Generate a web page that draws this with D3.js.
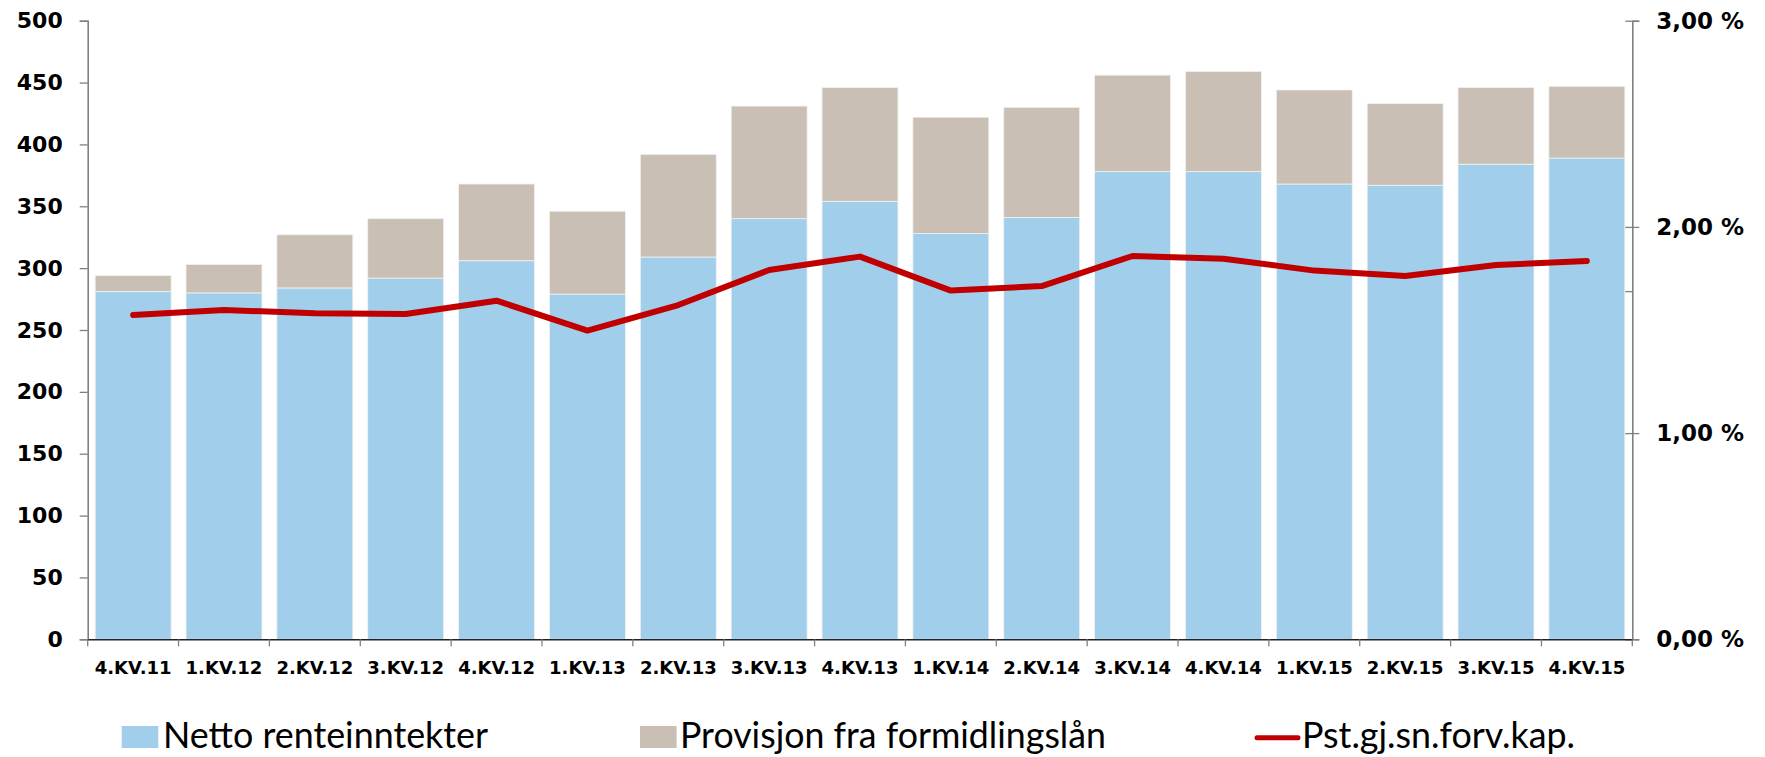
<!DOCTYPE html>
<html>
<head>
<meta charset="utf-8">
<script src="https://cdn.jsdelivr.net/npm/d3@7"></script>
<style>
  html, body { margin: 0; padding: 0; background: #ffffff; }
  svg { display: block; }
</style>
</head>
<body>
<svg id="chart" width="1765" height="757"></svg>
<script>
// ---- data ----
const categories = ["4.KV.11","1.KV.12","2.KV.12","3.KV.12","4.KV.12","1.KV.13","2.KV.13","3.KV.13","4.KV.13","1.KV.14","2.KV.14","3.KV.14","4.KV.14","1.KV.15","2.KV.15","3.KV.15","4.KV.15"];
const nettoRenteinntekter = [281, 280, 284, 292, 306, 279, 309, 340, 354, 328, 341, 378, 378, 368, 367, 384, 389];
const provisjonFormidlingslaan = [13, 23, 43, 48, 62, 67, 83, 91, 92, 94, 89, 78, 81, 76, 66, 62, 58];
const pstForvKap = [1.573, 1.597, 1.581, 1.578, 1.642, 1.497, 1.621, 1.791, 1.856, 1.691, 1.713, 1.859, 1.846, 1.788, 1.762, 1.815, 1.835];
const leftTicks = [0, 50, 100, 150, 200, 250, 300, 350, 400, 450, 500];
const rightTicks = [0, 1, 2, 3];
const rightMinorTicks = [1.686];
const legendLabels = ["Netto renteinntekter", "Provisjon fra formidlingslån", "Pst.gj.sn.forv.kap."];

// ---- layout ----
const plotLeft = 87.7, plotRight = 1632.3, plotTop = 20.7, plotBottom = 639.3;
const colBlue = "#A1CFEB", colTan = "#C9BFB5", colRed = "#C00000";

const svg = d3.select("#chart");

const x = d3.scaleBand().domain(categories).range([plotLeft, plotRight]).paddingInner(0.164).paddingOuter(0.082);
const y = d3.scaleLinear().domain([0, 500]).range([plotBottom, plotTop]);
const y2 = d3.scaleLinear().domain([0, 3]).range([plotBottom, plotTop]);

// bars
const rows = categories.map((c, i) => ({ cat: c, netto: nettoRenteinntekter[i], prov: provisjonFormidlingslaan[i] }));
const stack = d3.stack().keys(["netto", "prov"])(rows);
const colors = { netto: colBlue, prov: colTan };

svg.append("g").selectAll("g").data(stack).join("g")
  .attr("fill", d => colors[d.key])
  .selectAll("rect").data(d => d).join("rect")
  .attr("x", d => x(d.data.cat))
  .attr("width", x.bandwidth())
  .attr("y", d => y(d[1]))
  .attr("height", d => y(d[0]) - y(d[1]))
  .attr("stroke", "#f2f2f2")
  .attr("stroke-width", 0.8);

// left axis
const leftAxis = d3.axisLeft(y).tickValues(leftTicks).tickSize(8).tickPadding(17).tickFormat(d3.format("d"));
const gl = svg.append("g").attr("transform", `translate(${plotLeft},0)`).call(leftAxis);
gl.select(".domain").attr("stroke", "#808080").attr("stroke-width", 1.6);
gl.selectAll(".tick line").attr("stroke", "#808080").attr("stroke-width", 1.3);
gl.selectAll(".tick text").attr("font-family", "'DejaVu Sans', Verdana, sans-serif")
  .attr("font-weight", "bold").attr("font-size", 22).attr("fill", "#000");

// right axis
const rightAxis = d3.axisRight(y2).tickValues(rightTicks).tickSize(7).tickPadding(17)
  .tickFormat(d => d3.format(".2f")(d).replace(".", ",") + " %");
const gr = svg.append("g").attr("transform", `translate(${plotRight},0)`).call(rightAxis);
gr.select(".domain").attr("stroke", "#808080").attr("stroke-width", 1.6);
gr.selectAll(".tick line").attr("stroke", "#808080").attr("stroke-width", 1.3).attr("x1", -7);
gr.selectAll(".tick text").attr("font-family", "'DejaVu Sans', Verdana, sans-serif")
  .attr("font-weight", "bold").attr("font-size", 23).attr("fill", "#000");
gr.selectAll(".minor").data(rightMinorTicks).join("line").attr("class", "minor")
  .attr("x1", -7).attr("x2", 0).attr("y1", d => y2(d)).attr("y2", d => y2(d))
  .attr("stroke", "#808080").attr("stroke-width", 1.3);

// bottom axis
const bottomAxis = d3.axisBottom(x).tickSize(0).tickPadding(22);
const gb = svg.append("g").attr("transform", `translate(0,${plotBottom})`).call(bottomAxis);
gb.select(".domain").attr("stroke", "#222").attr("stroke-width", 1.6);
gb.selectAll(".tick text").attr("font-family", "'DejaVu Sans', Verdana, sans-serif")
  .attr("font-weight", "bold").attr("font-size", 18).attr("fill", "#000");
// category boundary ticks
const bounds = categories.map(c => x(c) - x.step() * x.paddingInner() / 2).concat([plotRight]);
gb.selectAll(".btick").data(bounds).join("line").attr("class", "btick")
  .attr("x1", d => d).attr("x2", d => d).attr("y1", 0).attr("y2", 7)
  .attr("stroke", "#808080").attr("stroke-width", 1.3);

// line
const line = d3.line()
  .x((d, i) => x(categories[i]) + x.bandwidth() / 2)
  .y(d => y2(d));
svg.append("path").datum(pstForvKap)
  .attr("d", line).attr("fill", "none").attr("stroke", colRed)
  .attr("stroke-width", 6).attr("stroke-linejoin", "round").attr("stroke-linecap", "round");

// legend
const legendFont = "Lato, 'Open Sans', sans-serif";
const lg = svg.append("g");
const legendItems = [
  { label: legendLabels[0], type: "rect", color: colBlue, sx: 121.7, tx: 163, tw: 325 },
  { label: legendLabels[1], type: "rect", color: colTan, sx: 640, tx: 680, tw: 426 },
  { label: legendLabels[2], type: "line", color: colRed, sx: 1257, tx: 1302, tw: 273 }
];
legendItems.forEach(it => {
  if (it.type === "rect") {
    lg.append("rect").attr("x", it.sx).attr("y", 726).attr("width", 36.6).attr("height", 22).attr("fill", it.color);
  } else {
    lg.append("line").attr("x1", it.sx).attr("x2", it.sx + 41).attr("y1", 737.7).attr("y2", 737.7)
      .attr("stroke", it.color).attr("stroke-width", 5).attr("stroke-linecap", "round");
  }
  lg.append("text").attr("x", it.tx).attr("y", 748).text(it.label)
    .attr("font-family", legendFont).attr("font-size", 36).attr("fill", "#000")
    .attr("textLength", it.tw).attr("lengthAdjust", "spacingAndGlyphs");
});
</script>
</body>
</html>
